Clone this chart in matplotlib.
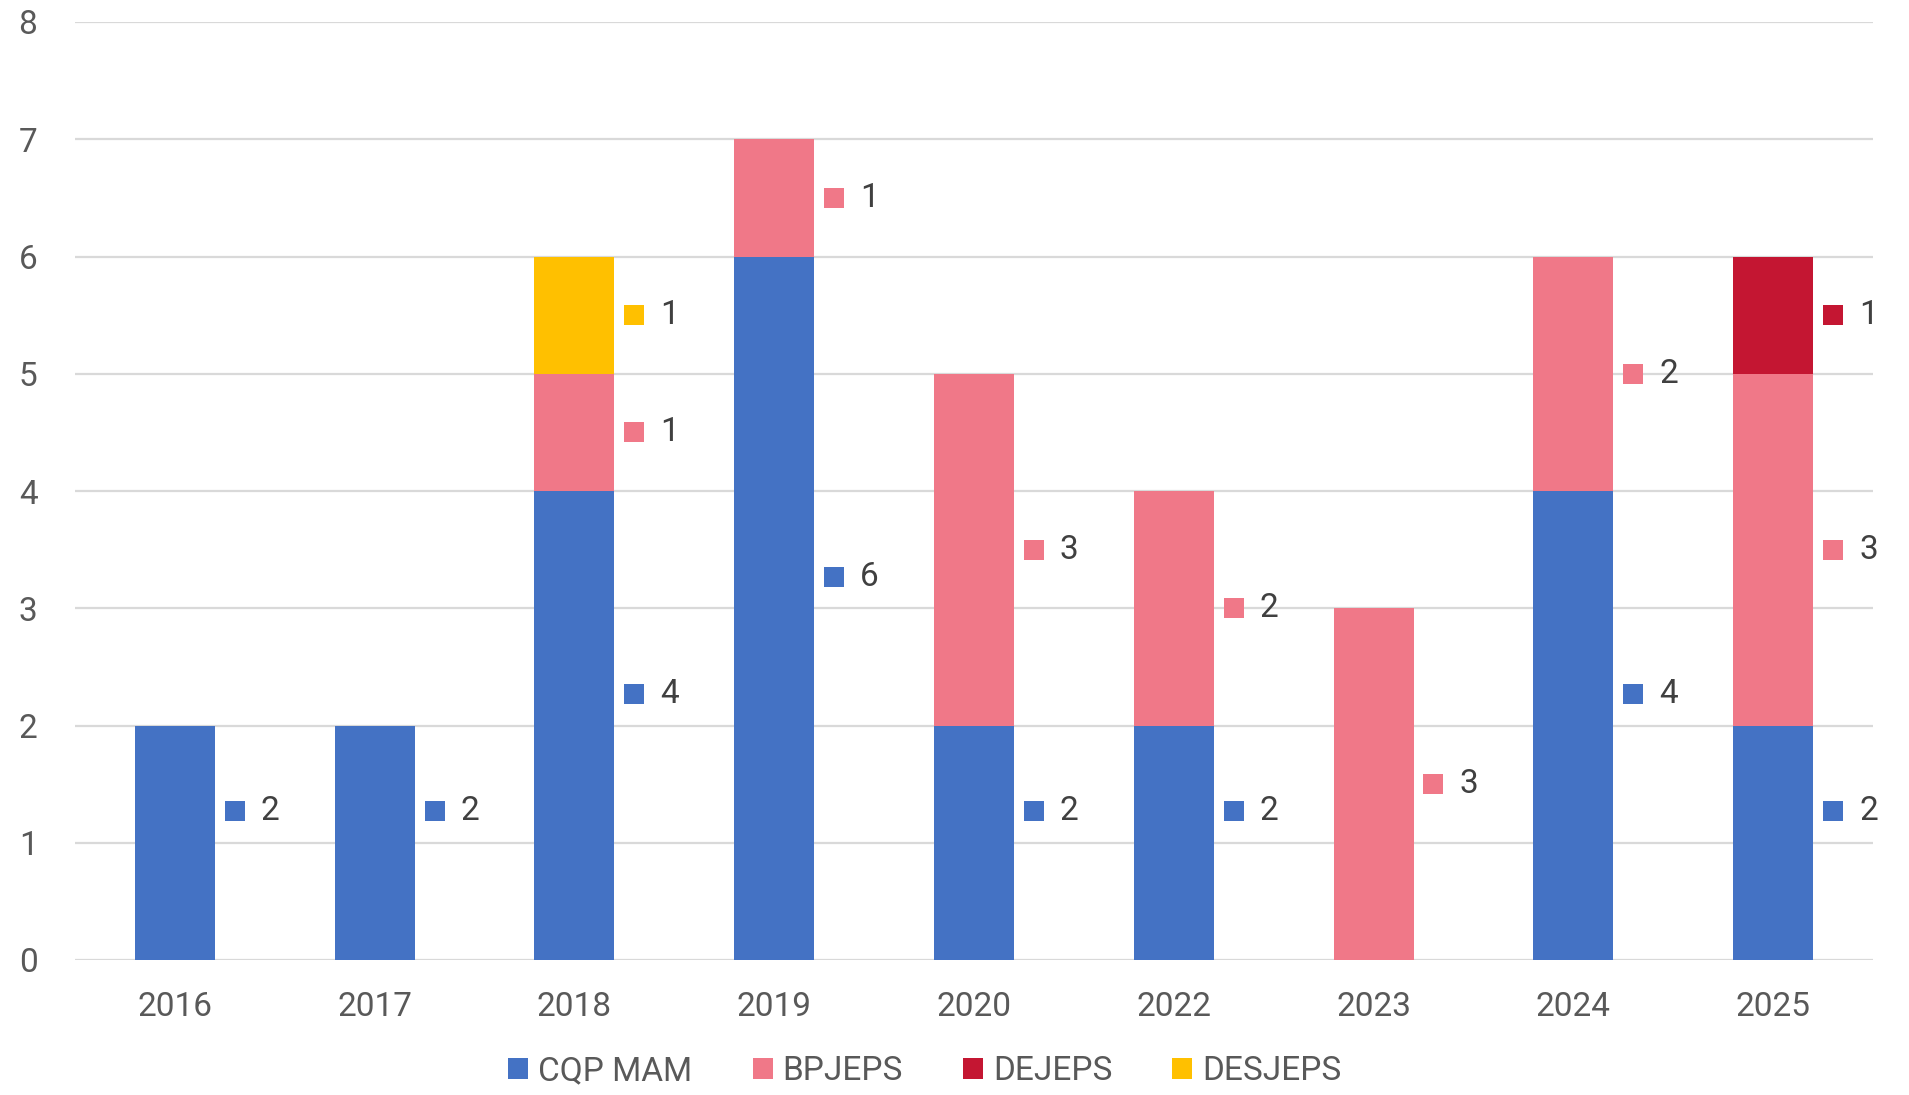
import matplotlib
matplotlib.use("Agg")
import matplotlib.pyplot as plt
from matplotlib.patches import Patch
import numpy as np

plt.rcParams['font.family'] = ['Roboto', 'DejaVu Sans']

years = ["2016", "2017", "2018", "2019", "2020", "2022", "2023", "2024", "2025"]
series_names = ["CQP MAM", "BPJEPS", "DEJEPS", "DESJEPS"]
cqp_mam = [2, 2, 4, 6, 2, 2, 0, 4, 2]
bpjeps = [0, 0, 1, 1, 3, 2, 3, 2, 3]
dejeps = [0, 0, 0, 0, 0, 0, 0, 0, 1]
desjeps = [0, 0, 1, 0, 0, 0, 0, 0, 0]
colors = ["#4472C4", "#F07888", "#C41632", "#FFC000"]
y_ticks = [0, 1, 2, 3, 4, 5, 6, 7, 8]

W, H = 1909, 1095
fig = plt.figure(figsize=(W / 100, H / 100), dpi=100)
ax = fig.add_axes([75 / W, 1 - 960 / H, (1873 - 75) / W, (960 - 22) / H])

x = np.arange(len(years))
bottom = np.zeros(len(years))
all_series = [cqp_mam, bpjeps, dejeps, desjeps]
label_offsets = [0.27, 0.0, 0.0, 0.0]
for s_idx, (vals, col) in enumerate(zip(all_series, colors)):
    vals = np.array(vals, dtype=float)
    ax.bar(x, vals, width=0.4, bottom=bottom, color=col, zorder=3, linewidth=0)
    for i, v in enumerate(vals):
        if v > 0:
            yc = bottom[i] + v / 2 + label_offsets[s_idx]
            ax.plot(x[i] + 0.3, yc, marker='s', markersize=15, color=col,
                    linestyle='none', zorder=4, markeredgewidth=0)
            ax.text(x[i] + 0.43, yc, f"{int(v)}", fontsize=24, color="#404040",
                    ha='left', va='center', zorder=4)
    bottom = bottom + vals

ax.set_xlim(-0.5, len(years) - 0.5)
ax.set_ylim(0, 8)
ax.set_yticks(y_ticks)
ax.set_yticklabels([str(t) for t in y_ticks])
ax.set_xticks(x)
ax.set_xticklabels(years)
ax.tick_params(axis='both', length=0, labelsize=24, colors="#595959")
ax.tick_params(axis='y', pad=27)
ax.tick_params(axis='x', pad=22)
ax.grid(axis='y', color="#D9D9D9", linewidth=1.6, zorder=0)
ax.set_axisbelow(True)
for sp in ax.spines.values():
    sp.set_visible(False)

handles = [Patch(facecolor=c, edgecolor='none', label=n) for n, c in zip(series_names, colors)]
fig.legend(handles=handles, loc='center', bbox_to_anchor=(925 / W, 1 - 1071 / H), ncol=4,
           frameon=False, fontsize=24, handlelength=0.6, handleheight=0.6,
           handletextpad=0.3, columnspacing=1.8, labelcolor="#595959")

fig.savefig("out.png", dpi=100)
